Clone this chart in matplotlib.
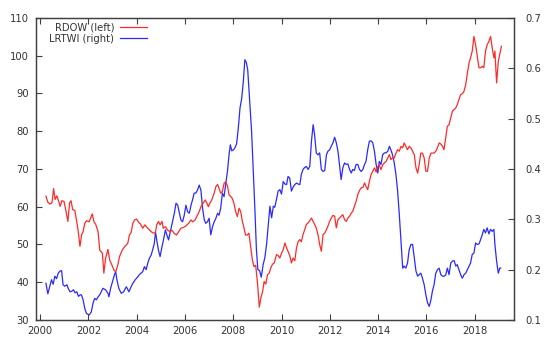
import matplotlib
matplotlib.use("Agg")
import matplotlib.pyplot as plt

# RDOW (eje izquierdo) y LRTWI (eje derecho), fechas en anos decimales

rdow_fechas = [
    2000.24, 2000.32, 2000.40, 2000.49, 2000.56, 2000.62, 2000.69, 2000.76, 2000.83, 2000.90,
    2000.99, 2001.06, 2001.15, 2001.22, 2001.28, 2001.35, 2001.44, 2001.50, 2001.57, 2001.65,
    2001.72, 2001.78, 2001.85, 2001.92, 2002.03, 2002.09, 2002.16, 2002.23, 2002.30, 2002.40,
    2002.47, 2002.58, 2002.64, 2002.71, 2002.81, 2002.88, 2002.97, 2003.06, 2003.13, 2003.20,
    2003.29, 2003.40, 2003.50, 2003.57, 2003.63, 2003.70, 2003.77, 2003.84, 2003.91, 2004.00,
    2004.09, 2004.16, 2004.25, 2004.34, 2004.46, 2004.55, 2004.66, 2004.77, 2004.83, 2004.90,
    2004.97, 2005.05, 2005.10, 2005.19, 2005.28, 2005.38, 2005.46, 2005.56, 2005.65, 2005.74,
    2005.83, 2005.93, 2006.04, 2006.15, 2006.25, 2006.32, 2006.42, 2006.52, 2006.59, 2006.66,
    2006.75, 2006.84, 2006.91, 2006.97, 2007.03, 2007.11, 2007.21, 2007.28, 2007.35, 2007.41,
    2007.48, 2007.55, 2007.62, 2007.69, 2007.76, 2007.83, 2007.90, 2007.96, 2008.03, 2008.10,
    2008.17, 2008.24, 2008.31, 2008.38, 2008.45, 2008.51, 2008.58, 2008.65, 2008.72, 2008.79,
    2008.86, 2008.93, 2009.01, 2009.08, 2009.15, 2009.22, 2009.28, 2009.35, 2009.42, 2009.49,
    2009.56, 2009.63, 2009.70, 2009.79, 2009.86, 2009.93, 2010.00, 2010.07, 2010.14, 2010.21,
    2010.27, 2010.34, 2010.41, 2010.48, 2010.55, 2010.62, 2010.69, 2010.76, 2010.82, 2010.89,
    2010.96, 2011.03, 2011.10, 2011.17, 2011.24, 2011.31, 2011.37, 2011.44, 2011.51, 2011.58,
    2011.65, 2011.72, 2011.79, 2011.86, 2011.92, 2011.99, 2012.06, 2012.13, 2012.20, 2012.27,
    2012.34, 2012.40, 2012.47, 2012.54, 2012.61, 2012.68, 2012.75, 2012.82, 2012.89, 2012.95,
    2013.02, 2013.09, 2013.16, 2013.23, 2013.30, 2013.37, 2013.44, 2013.50, 2013.57, 2013.64,
    2013.71, 2013.78, 2013.85, 2013.92, 2013.99, 2014.05, 2014.12, 2014.19, 2014.26, 2014.33,
    2014.40, 2014.47, 2014.53, 2014.60, 2014.67, 2014.74, 2014.81, 2014.88, 2014.95, 2015.02,
    2015.08, 2015.15, 2015.22, 2015.29, 2015.36, 2015.43, 2015.50, 2015.57, 2015.64, 2015.70,
    2015.77, 2015.84, 2015.91, 2015.98, 2016.05, 2016.12, 2016.19, 2016.25, 2016.32, 2016.39,
    2016.46, 2016.53, 2016.60, 2016.67, 2016.73, 2016.80, 2016.87, 2016.94, 2017.01, 2017.08,
    2017.15, 2017.22, 2017.28, 2017.35, 2017.42, 2017.49, 2017.56, 2017.63, 2017.70, 2017.77,
    2017.83, 2017.90, 2017.97, 2018.04, 2018.11, 2018.18, 2018.25, 2018.32, 2018.38, 2018.45,
    2018.52, 2018.59, 2018.66, 2018.73, 2018.80, 2018.84, 2018.91, 2018.98, 2019.04, 2019.11,
]
rdow = [
    62.8, 61.2, 60.7, 61.0, 64.8, 61.9, 62.9, 61.6, 60.1, 61.6,
    61.4, 59.2, 56.1, 61.0, 61.6, 59.2, 59.0, 56.6, 53.9, 49.5,
    52.6, 53.4, 55.6, 56.3, 56.0, 57.0, 58.1, 56.0, 55.4, 53.4,
    48.5, 47.7, 42.4, 46.3, 48.7, 45.9, 44.6, 43.2, 42.8, 44.1,
    46.8, 48.5, 49.4, 49.9, 50.3, 52.5, 53.2, 55.6, 56.5, 56.7,
    55.8, 55.4, 54.3, 55.2, 54.3, 53.7, 53.1, 53.0, 55.2, 56.1,
    55.2, 56.1, 54.3, 54.7, 53.8, 53.4, 53.8, 52.9, 52.5, 53.4,
    54.3, 54.5, 54.9, 55.6, 56.5, 56.0, 56.5, 57.8, 58.7, 60.0,
    60.9, 61.8, 60.9, 60.0, 60.9, 61.8, 63.6, 65.3, 65.9, 64.9,
    63.6, 64.0, 66.2, 66.6, 65.5, 63.1, 62.7, 62.2, 60.9, 58.7,
    57.4, 59.6, 58.7, 56.0, 54.3, 52.5, 52.5, 53.0, 49.4, 46.0,
    44.1, 44.5, 39.4, 33.4, 36.0, 37.6, 40.2, 39.5, 42.0, 42.4,
    43.9, 44.8, 45.1, 47.3, 47.1, 46.4, 47.7, 48.6, 50.4, 49.1,
    48.2, 47.1, 45.1, 46.4, 45.7, 49.1, 50.8, 51.3, 50.7, 52.6,
    53.9, 55.3, 55.7, 56.3, 57.0, 56.1, 55.3, 54.4, 52.6, 50.0,
    48.2, 52.6, 53.0, 53.9, 54.8, 56.1, 57.0, 57.7, 57.5, 54.4,
    56.6, 57.0, 57.5, 57.9, 56.6, 56.1, 57.0, 57.5, 58.3, 58.8,
    60.1, 61.4, 63.2, 64.3, 65.0, 65.1, 66.3, 65.4, 64.5, 66.7,
    68.5, 69.4, 70.3, 69.2, 70.7, 71.1, 69.8, 71.1, 71.6, 72.0,
    72.9, 73.8, 72.5, 72.9, 72.9, 74.2, 75.1, 74.7, 76.0, 75.6,
    76.9, 76.0, 75.1, 76.0, 75.6, 74.7, 73.8, 70.3, 68.9, 71.1,
    74.2, 74.2, 72.9, 69.4, 69.4, 72.9, 74.2, 74.2, 74.2, 74.7,
    75.6, 76.9, 76.6, 76.0, 75.1, 78.2, 81.3, 81.7, 83.5, 85.3,
    85.7, 86.2, 87.0, 88.4, 89.7, 89.9, 90.6, 92.3, 95.4, 98.1,
    99.4, 101.2, 105.1, 102.9, 99.8, 96.8, 96.8, 97.2, 96.8, 101.2,
    102.9, 103.8, 105.1, 102.0, 99.4, 101.2, 92.8, 98.5, 100.3, 102.5,
]

lrtwi_fechas = [
    2000.24, 2000.32, 2000.40, 2000.47, 2000.54, 2000.61, 2000.68, 2000.75, 2000.82, 2000.89,
    2000.95, 2001.02, 2001.11, 2001.17, 2001.24, 2001.31, 2001.38, 2001.45, 2001.52, 2001.59,
    2001.66, 2001.71, 2001.78, 2001.85, 2001.92, 2002.03, 2002.12, 2002.19, 2002.26, 2002.33,
    2002.40, 2002.47, 2002.53, 2002.60, 2002.71, 2002.81, 2002.85, 2002.92, 2003.02, 2003.08,
    2003.13, 2003.18, 2003.26, 2003.36, 2003.46, 2003.57, 2003.68, 2003.74, 2003.84, 2003.94,
    2004.05, 2004.11, 2004.18, 2004.25, 2004.32, 2004.39, 2004.46, 2004.53, 2004.60, 2004.66,
    2004.73, 2004.78, 2004.83, 2004.90, 2004.97, 2005.05, 2005.11, 2005.19, 2005.25, 2005.32,
    2005.38, 2005.46, 2005.56, 2005.63, 2005.70, 2005.76, 2005.83, 2005.90, 2005.97, 2006.04,
    2006.11, 2006.18, 2006.25, 2006.31, 2006.38, 2006.45, 2006.52, 2006.59, 2006.66, 2006.73,
    2006.80, 2006.86, 2006.93, 2007.00, 2007.07, 2007.14, 2007.21, 2007.28, 2007.35, 2007.41,
    2007.48, 2007.55, 2007.62, 2007.69, 2007.76, 2007.83, 2007.88, 2007.94, 2008.01, 2008.07,
    2008.14, 2008.21, 2008.28, 2008.35, 2008.42, 2008.48, 2008.54, 2008.60, 2008.69, 2008.76,
    2008.83, 2008.90, 2008.96, 2009.02, 2009.09, 2009.16, 2009.24, 2009.31, 2009.38, 2009.45,
    2009.52, 2009.59, 2009.66, 2009.72, 2009.79, 2009.86, 2009.93, 2010.00, 2010.07, 2010.14,
    2010.21, 2010.27, 2010.34, 2010.41, 2010.48, 2010.55, 2010.62, 2010.69, 2010.76, 2010.82,
    2010.89, 2010.96, 2011.03, 2011.10, 2011.17, 2011.24, 2011.31, 2011.37, 2011.44, 2011.51,
    2011.58, 2011.65, 2011.72, 2011.79, 2011.86, 2011.92, 2011.99, 2012.06, 2012.13, 2012.20,
    2012.27, 2012.34, 2012.40, 2012.47, 2012.54, 2012.61, 2012.68, 2012.75, 2012.82, 2012.89,
    2012.95, 2013.02, 2013.09, 2013.16, 2013.23, 2013.30, 2013.37, 2013.44, 2013.50, 2013.57,
    2013.64, 2013.71, 2013.78, 2013.85, 2013.92, 2013.99, 2014.05, 2014.12, 2014.19, 2014.26,
    2014.33, 2014.40, 2014.47, 2014.53, 2014.60, 2014.67, 2014.74, 2014.81, 2014.88, 2014.95,
    2015.02, 2015.08, 2015.15, 2015.22, 2015.29, 2015.36, 2015.43, 2015.50, 2015.57, 2015.64,
    2015.70, 2015.77, 2015.84, 2015.91, 2015.98, 2016.05, 2016.12, 2016.19, 2016.25, 2016.32,
    2016.39, 2016.46, 2016.53, 2016.60, 2016.67, 2016.73, 2016.80, 2016.87, 2016.94, 2017.01,
    2017.08, 2017.15, 2017.22, 2017.28, 2017.35, 2017.42, 2017.49, 2017.56, 2017.63, 2017.70,
    2017.77, 2017.83, 2017.90, 2017.97, 2018.04, 2018.11, 2018.18, 2018.25, 2018.32, 2018.38,
    2018.45, 2018.52, 2018.59, 2018.66, 2018.73, 2018.80, 2018.84, 2018.91, 2018.98, 2019.04,
    2019.08,
]
lrtwi = [
    0.173, 0.152, 0.167, 0.180, 0.171, 0.187, 0.182, 0.193, 0.197, 0.198,
    0.170, 0.167, 0.170, 0.162, 0.156, 0.157, 0.160, 0.154, 0.156, 0.147,
    0.150, 0.150, 0.140, 0.123, 0.113, 0.110, 0.116, 0.133, 0.143, 0.140,
    0.146, 0.150, 0.156, 0.163, 0.160, 0.153, 0.146, 0.163, 0.180, 0.190,
    0.196, 0.180, 0.163, 0.153, 0.156, 0.166, 0.156, 0.163, 0.173, 0.180,
    0.186, 0.190, 0.193, 0.196, 0.206, 0.200, 0.213, 0.223, 0.229, 0.239,
    0.252, 0.275, 0.259, 0.239, 0.226, 0.246, 0.259, 0.279, 0.269, 0.259,
    0.272, 0.289, 0.312, 0.332, 0.328, 0.315, 0.299, 0.295, 0.308, 0.328,
    0.315, 0.312, 0.328, 0.338, 0.352, 0.352, 0.358, 0.368, 0.358, 0.322,
    0.299, 0.292, 0.295, 0.302, 0.269, 0.285, 0.295, 0.302, 0.312, 0.308,
    0.322, 0.352, 0.345, 0.371, 0.395, 0.430, 0.448, 0.436, 0.438, 0.442,
    0.450, 0.481, 0.521, 0.540, 0.575, 0.617, 0.612, 0.597, 0.528, 0.475,
    0.395, 0.316, 0.240, 0.200, 0.198, 0.185, 0.210, 0.224, 0.250, 0.289,
    0.326, 0.303, 0.326, 0.324, 0.339, 0.356, 0.359, 0.350, 0.375, 0.370,
    0.369, 0.385, 0.382, 0.356, 0.364, 0.369, 0.372, 0.370, 0.369, 0.389,
    0.399, 0.403, 0.405, 0.399, 0.405, 0.455, 0.488, 0.468, 0.432, 0.428,
    0.432, 0.399, 0.395, 0.397, 0.428, 0.435, 0.438, 0.445, 0.452, 0.463,
    0.452, 0.435, 0.409, 0.379, 0.402, 0.412, 0.409, 0.410, 0.399, 0.392,
    0.399, 0.397, 0.409, 0.409, 0.399, 0.395, 0.399, 0.409, 0.415, 0.438,
    0.455, 0.456, 0.452, 0.435, 0.409, 0.392, 0.415, 0.409, 0.428, 0.432,
    0.432, 0.435, 0.445, 0.438, 0.428, 0.412, 0.389, 0.356, 0.309, 0.256,
    0.203, 0.207, 0.203, 0.213, 0.240, 0.250, 0.250, 0.223, 0.197, 0.187,
    0.190, 0.193, 0.183, 0.170, 0.150, 0.134, 0.127, 0.140, 0.157, 0.170,
    0.193, 0.200, 0.203, 0.190, 0.187, 0.187, 0.189, 0.203, 0.190, 0.213,
    0.217, 0.218, 0.207, 0.210, 0.200, 0.190, 0.183, 0.190, 0.193, 0.200,
    0.207, 0.213, 0.230, 0.233, 0.253, 0.250, 0.251, 0.260, 0.270, 0.280,
    0.273, 0.283, 0.271, 0.280, 0.276, 0.280, 0.250, 0.217, 0.193, 0.203,
    0.203,
]

x_ticks = [2000, 2002, 2004, 2006, 2008, 2010, 2012, 2014, 2016, 2018]
izq_ticks = [30, 40, 50, 60, 70, 80, 90, 100, 110]
der_ticks = [0.1, 0.2, 0.3, 0.4, 0.5, 0.6, 0.7]

color_marco = "#404040"
color_texto = "#333333"
rojo = "#ff2a2a"
azul = "#2a2aff"


def main():
    plt.rcParams["font.family"] = ["DejaVu Sans"]
    plt.rcParams["font.size"] = 7.2

    fig = plt.figure(figsize=(5.5, 3.45), dpi=100)
    ax = fig.add_axes([0.0655, 0.0725, 0.869, 0.8755])
    ax2 = ax.twinx()

    l1, = ax.plot(rdow_fechas, rdow, color=rojo, lw=0.9, label="RDOW (left)")
    l2, = ax2.plot(lrtwi_fechas, lrtwi, color=azul, lw=0.9, label="LRTWI (right)")

    ax.set_xlim(1999.83, 2019.63)
    ax.set_ylim(30, 110)
    ax2.set_ylim(0.1, 0.7)

    ax.set_xticks(x_ticks)
    ax.set_yticks(izq_ticks)
    ax2.set_yticks(der_ticks)
    ax2.set_yticklabels([f"{v:.1f}" for v in der_ticks])

    # ticks hacia adentro, estilo gnuplot
    ax.tick_params(axis="x", direction="in", top=True, bottom=True, length=4,
                   width=0.8, color=color_marco, labelcolor=color_texto, pad=4)
    ax.tick_params(axis="y", direction="in", left=True, right=False, length=4,
                   width=0.8, color=color_marco, labelcolor=color_texto, pad=5)
    ax2.tick_params(axis="y", direction="in", right=True, left=False, length=4,
                    width=0.8, color=color_marco, labelcolor=color_texto, pad=8)

    for a in (ax, ax2):
        for s in a.spines.values():
            s.set_color(color_marco)
            s.set_linewidth(0.9)

    leg = ax.legend([l1, l2], ["RDOW (left)", "LRTWI (right)"], loc="upper right",
                    bbox_to_anchor=(0.245, 1.005), frameon=False, markerfirst=False,
                    handlelength=2.7, handletextpad=0.6, labelspacing=0.15,
                    borderaxespad=0.2, fontsize=7.2)
    for t in leg.get_texts():
        t.set_color(color_texto)
    ax.set_zorder(ax2.get_zorder() + 1)
    ax.patch.set_visible(False)

    plt.savefig("out.png", dpi=100)


if __name__ == "__main__":
    main()
